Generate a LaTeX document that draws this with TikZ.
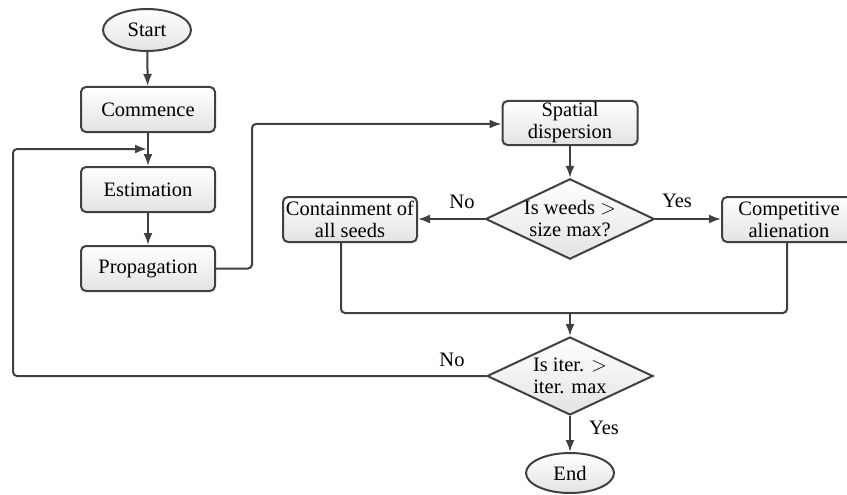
\documentclass[tikz,border=0pt]{standalone}
\usepackage{fontspec}
\setmainfont{Liberation Serif}
\usetikzlibrary{shapes.geometric,arrows.meta,calc}
\definecolor{ln}{HTML}{404040}
\tikzset{
  base/.style={draw=ln, line width=2pt, top color=white, bottom color=gray!22, font=\fontsize{20.5pt}{22pt}\selectfont, align=center, inner sep=0pt},
  proc/.style={base, rectangle, rounded corners=5pt, minimum width=134pt, minimum height=45pt},
  term/.style={base, ellipse, minimum width=88pt, minimum height=42pt},
  dec/.style={base, diamond, minimum width=166pt, minimum height=78pt, aspect=2.1},
  conn/.style={draw=ln, line width=2pt, rounded corners=4pt},
  arr/.style={conn, -{Latex[length=12pt,width=9pt]}},
  lbl/.style={font=\fontsize{20.5pt}{22pt}\selectfont, inner sep=0pt}
}
\begin{document}
\begin{tikzpicture}[x=1pt,y=-1pt]
\useasboundingbox (0,0) rectangle (847,495);
\node[term] (start) at (147,30) {Start};
\node[proc] (commence) at (148,109.5) {Commence};
\node[proc] (estim) at (148,189.5) {Estimation};
\node[proc] (prop) at (148,268.5) {Propagation};
\node[proc, minimum width=135pt, minimum height=44pt] (spatial) at (570,123) {Spatial\\dispersion};
\node[dec] (dec1) at (570,219) {Is weeds $>$\\size max?};
\node[proc] (contain) at (350,219.5) {Containment of\\all seeds};
\node[proc] (compet) at (789,219.5) {Competitive\\alienation};
\node[dec] (dec2) at (570,376) {Is iter. $>$\\iter. max};
\node[term, minimum height=40pt] (end) at (570,473) {End};

\coordinate (merge) at (570,313);
\coordinate (loopin) at (148,149);

\draw[arr] (start) -- (commence);
\draw[arr] (commence) -- (estim);
\draw[arr] (estim) -- (prop);
\draw[arr] (prop.east) -- (252,268.5) -- (252,124) -- (spatial.west |- 0,124);
\draw[arr] (spatial) -- (dec1);
\draw[arr] (dec1.west) -- (contain.east |- dec1.west);
\draw[arr] (dec1.east) -- (compet.west |- dec1.east);
\draw[conn] ([xshift=-9pt]contain.south) |- (merge) -| ([xshift=-2pt]compet.south);
\draw[arr] (merge) -- (dec2.north);
\draw[arr] (dec2.west) -- (13,376) -- (13,149) -- ([xshift=-1pt]loopin);
\draw[arr] (dec2) -- (end);

\node[lbl] (l1) at (462,202) {No};
\node[lbl] (l2) at (677,201) {Yes};
\node[lbl] (l3) at (452,360) {No};
\node[lbl] (l4) at (604,428) {Yes};
\end{tikzpicture}
\end{document}
